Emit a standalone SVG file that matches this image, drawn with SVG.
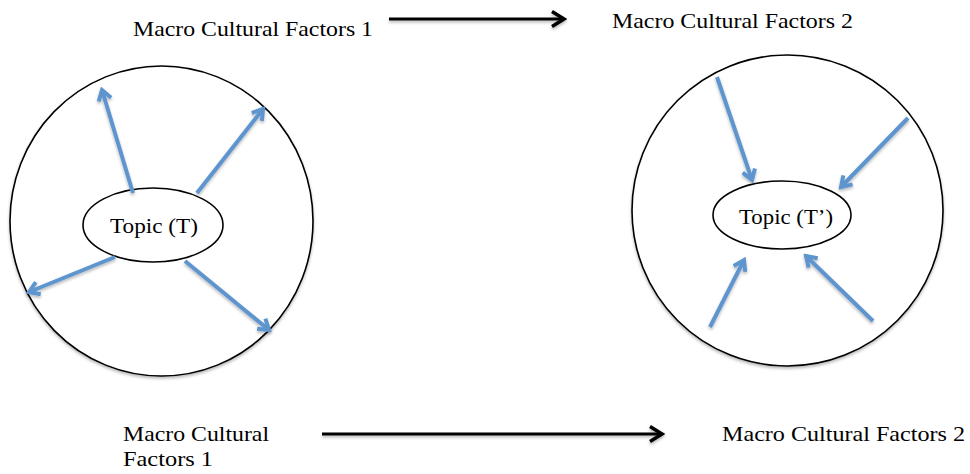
<svg xmlns="http://www.w3.org/2000/svg" width="970" height="474" viewBox="0 0 970 474">
<defs>
<filter id="sh" x="-10%" y="-10%" width="120%" height="125%">
<feDropShadow dx="0" dy="2" stdDeviation="1.8" flood-color="#000" flood-opacity="0.28"/>
</filter>
<marker id="bh" viewBox="0 0 16 16" refX="13" refY="8" markerWidth="16" markerHeight="16" markerUnits="userSpaceOnUse" orient="auto">
<path d="M3,1.5 L13,8 L3,14.5" fill="none" stroke="#5F95CE" stroke-width="4" stroke-linecap="butt" stroke-linejoin="miter"/>
</marker>
<marker id="kh" viewBox="0 0 18 20" refX="15" refY="10" markerWidth="18" markerHeight="20" markerUnits="userSpaceOnUse" orient="auto">
<path d="M3,2.5 L15,10 L3,17.5" fill="none" stroke="#000" stroke-width="3.4"/>
</marker>
</defs>
<style>
text{font-family:"Liberation Serif","Times New Roman",serif;fill:#000}
.lbl{font-size:21px}
.tp{font-size:22px}
.ring{fill:#fff;stroke:#000;stroke-width:1.6}
.blue{fill:none;stroke:#5F95CE;stroke-width:4;marker-end:url(#bh)}
.blk{fill:none;stroke:#000;stroke-width:3.2;marker-end:url(#kh)}
</style>
<g id="circle-left" filter="url(#sh)"><ellipse class="ring" cx="161.5" cy="221" rx="151.5" ry="155"/></g>
<g id="circle-right" filter="url(#sh)"><ellipse class="ring" cx="787.5" cy="210.5" rx="155.5" ry="155.5"/></g>
<g id="topic-t"><ellipse class="ring" cx="153" cy="225" rx="70" ry="37"/><text class="tp" x="154" y="233" text-anchor="middle" textLength="88" lengthAdjust="spacingAndGlyphs">Topic (T)</text></g>
<g id="topic-t2"><ellipse class="ring" cx="782" cy="215" rx="69" ry="34"/><text class="tp" x="786" y="224" text-anchor="middle" textLength="94" lengthAdjust="spacingAndGlyphs">Topic (T’)</text></g>
<g id="label-top-1"><text class="lbl" x="133" y="36" textLength="240" lengthAdjust="spacingAndGlyphs">Macro Cultural Factors 1</text></g>
<g id="label-top-2"><text class="lbl" x="612" y="28" textLength="241" lengthAdjust="spacingAndGlyphs">Macro Cultural Factors 2</text></g>
<g id="label-bottom-1"><text class="lbl" x="123" y="441" textLength="146" lengthAdjust="spacingAndGlyphs">Macro Cultural</text><text class="lbl" x="123" y="466" textLength="90" lengthAdjust="spacingAndGlyphs">Factors 1</text></g>
<g id="label-bottom-2"><text class="lbl" x="722" y="441" textLength="243" lengthAdjust="spacingAndGlyphs">Macro Cultural Factors 2</text></g>
<g id="connectors" filter="url(#sh)">
<line class="blk" x1="389" y1="19" x2="564" y2="19"/>
<line class="blk" x1="322" y1="434" x2="662" y2="434"/>
<line class="blue" x1="133" y1="193" x2="102" y2="90"/>
<line class="blue" x1="197" y1="193" x2="263" y2="109"/>
<line class="blue" x1="115" y1="257" x2="29" y2="292"/>
<line class="blue" x1="185" y1="261" x2="269" y2="330"/>
<line class="blue" x1="717" y1="77" x2="752" y2="180"/>
<line class="blue" x1="908" y1="118" x2="841" y2="187"/>
<line class="blue" x1="710" y1="327" x2="744" y2="260"/>
<line class="blue" x1="873" y1="321" x2="806" y2="256"/>
</g>
</svg>
